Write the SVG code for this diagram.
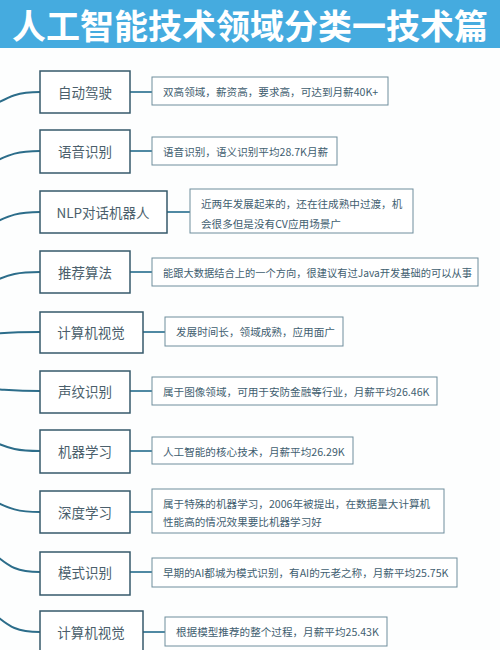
<svg xmlns="http://www.w3.org/2000/svg" width="500" height="650" viewBox="0 0 500 650">
<style>
.node rect{fill:#ffffff;stroke:#36596b;stroke-width:1.5}
.node text{font-family:"Noto Sans CJK SC","Noto Sans",sans-serif;font-size:13.5px;fill:#4b5f6c;text-anchor:middle;dominant-baseline:central}
.desc rect{fill:#ffffff;stroke:#6f8d9c;stroke-width:1}
.desc text{font-family:"Noto Sans CJK SC","Noto Sans",sans-serif;font-size:10.6px;fill:#3f5e70;dominant-baseline:central}
.conn path{fill:none;stroke:#2c6d8a;stroke-width:2;stroke-linecap:round}
.conn line{stroke:#3b7c99;stroke-width:1.8}
</style>
<rect x="0" y="0" width="500" height="650" fill="#fdfefe"/>
<g id="title">
<rect x="0" y="0" width="500" height="48" fill="#45abdf"/>
<text x="250" y="24" font-family="Noto Sans CJK SC,sans-serif" font-size="34" font-weight="bold" fill="#ffffff" text-anchor="middle" dominant-baseline="central">人工智能技术领域分类一技术篇</text>
</g>
<g class="conn" id="connectors">
<path d="M-8 106 C10 96 18 92 40 92"/>
<path d="M-8 163 C10 154 18 151 40 151"/>
<path d="M-8 224 C10 215 18 212 40 212"/>
<path d="M-8 282 C10 274 18 272 40 272"/>
<path d="M-8 334 C10 332 18 332 40 332"/>
<path d="M-8 389 C10 390 18 391 40 391"/>
<path d="M-8 441 C10 449 18 451 40 451"/>
<path d="M-8 500 C10 509 18 512 40 512"/>
<path d="M-8 552 C10 568 18 572 40 572"/>
<path d="M-8 612 C10 628 18 632 40 632"/>
<line x1="130" y1="92" x2="152" y2="92"/>
<line x1="130" y1="151" x2="152" y2="151"/>
<line x1="167" y1="212" x2="190" y2="212"/>
<line x1="130" y1="272" x2="152" y2="272"/>
<line x1="143" y1="332" x2="165" y2="332"/>
<line x1="130" y1="391" x2="152" y2="391"/>
<line x1="130" y1="451" x2="152" y2="451"/>
<line x1="130" y1="512" x2="152" y2="512"/>
<line x1="130" y1="572" x2="152" y2="572"/>
<line x1="143" y1="632" x2="165" y2="632"/>
</g>
<g class="node" id="n1"><rect x="40" y="71" width="90" height="42"/><text x="85" y="92">自动驾驶</text></g>
<g class="desc" id="d1"><rect x="152" y="77" width="236" height="28"/><text x="163" y="91">双高领域，薪资高，要求高，可达到月薪40K+</text></g>
<g class="node" id="n2"><rect x="40" y="130" width="90" height="43"/><text x="85" y="151">语音识别</text></g>
<g class="desc" id="d2"><rect x="152" y="137" width="185" height="28"/><text x="163" y="151">语音识别，语义识别平均28.7K月薪</text></g>
<g class="node" id="n3"><rect x="40" y="191" width="127" height="42"/><text x="103" y="212">NLP对话机器人</text></g>
<g class="desc" id="d3"><rect x="190" y="189" width="223" height="44"/><text x="201" y="203">近两年发展起来的，还在往成熟中过渡，机</text><text x="201" y="223">会很多但是没有CV应用场景广</text></g>
<g class="node" id="n4"><rect x="40" y="251" width="90" height="42"/><text x="85" y="272">推荐算法</text></g>
<g class="desc" id="d4"><rect x="152" y="258" width="326" height="28"/><text x="163" y="272" textLength="309" lengthAdjust="spacingAndGlyphs">能跟大数据结合上的一个方向，很建议有过Java开发基础的可以从事</text></g>
<g class="node" id="n5"><rect x="40" y="312" width="103" height="41"/><text x="91" y="332">计算机视觉</text></g>
<g class="desc" id="d5"><rect x="165" y="317" width="178" height="29"/><text x="176" y="331">发展时间长，领域成熟，应用面广</text></g>
<g class="node" id="n6"><rect x="40" y="371" width="90" height="42"/><text x="85" y="391">声纹识别</text></g>
<g class="desc" id="d6"><rect x="152" y="377" width="285" height="28"/><text x="163" y="391">属于图像领域，可用于安防金融等行业，月薪平均26.46K</text></g>
<g class="node" id="n7"><rect x="40" y="430" width="90" height="43"/><text x="85" y="451">机器学习</text></g>
<g class="desc" id="d7"><rect x="152" y="437" width="201" height="27"/><text x="163" y="451">人工智能的核心技术，月薪平均26.29K</text></g>
<g class="node" id="n8"><rect x="40" y="491" width="90" height="42"/><text x="85" y="512">深度学习</text></g>
<g class="desc" id="d8"><rect x="152" y="489" width="292" height="44"/><text x="163" y="503">属于特殊的机器学习，2006年被提出，在数据量大计算机</text><text x="163" y="521">性能高的情况效果要比机器学习好</text></g>
<g class="node" id="n9"><rect x="40" y="552" width="90" height="43"/><text x="85" y="572">模式识别</text></g>
<g class="desc" id="d9"><rect x="152" y="558" width="305" height="29"/><text x="163" y="572">早期的AI都城为模式识别，有AI的元老之称，月薪平均25.75K</text></g>
<g class="node" id="n10"><rect x="40" y="611" width="103" height="45"/><text x="91" y="632">计算机视觉</text></g>
<g class="desc" id="d10"><rect x="165" y="617" width="222" height="29"/><text x="176" y="631">根据模型推荐的整个过程，月薪平均25.43K</text></g>
</svg>
